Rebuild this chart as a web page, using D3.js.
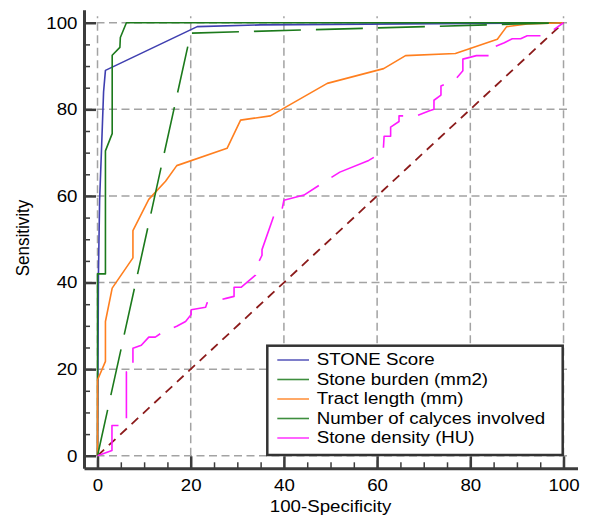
<!DOCTYPE html>
<html>
<head>
<meta charset="utf-8">
<script src="https://cdn.jsdelivr.net/npm/d3@7"></script>
<style>
  html, body { margin: 0; padding: 0; background: #fff; }
  svg { display: block; font-family: "Liberation Sans", Arial, sans-serif; }
</style>
</head>
<body>
<div id="chart"></div>
<script>
// dades ROC: [100-especificitat, sensibilitat]
const seriesNames = ["STONE Score", "Stone burden (mm2)", "Tract length (mm)", "Number of calyces involved", "Stone density (HU)"];

const stoneScore = [[0,0],[0.2,42],[0.45,59],[0.9,72],[1.3,84],[1.7,89],[21.4,99.1],[35,99.5],[100,100]];

const stoneBurden = [[0,0],[0,42],[1.7,42],[1.7,70.4],[3.15,74.4],[3.15,92.5],[4.8,94.3],[4.9,96.6],[6.2,100],[100,100]];

const tractLength = [[0,0],[0,17.5],[1.7,21.8],[1.7,31],[3.15,38.7],[7.6,45.7],[7.6,52],[11,59.2],[14.6,63.4],
  [17,67],[27.8,71],[30.7,77.5],[37.1,78.5],[49.3,86],[61.4,89.4],[66.1,92.4],[76.8,92.9],[85.8,96.2],
  [87.8,99.1],[92.2,99.7],[100,100]];

const calyces = [[0,0],[20,97.6],[100,100]];

const stoneDensity = [[0,0],[3.1,1.2],[3.1,7],[6.2,7],[6.2,19.4],[7.6,19.4],[7.6,24.8],[9.4,25.5],[11,27.4],
  [12.4,27.4],[13.9,28.5],[17,29.9],[18.9,31],[20.1,32.6],[20.1,33.7],[23.2,34.3],[23.5,35.3],[24.6,35.5],
  [27.8,36.4],[29.3,36.8],[29.3,38.9],[30.8,38.9],[33.9,41.7],[33.9,43.2],[35.3,46.3],[35.3,47.6],[37.8,55.3],
  [39.3,55.3],[40,59],[44.3,60.2],[48.9,63.4],[52,65.5],[58.2,68.2],[61.3,70.2],[61.5,73.8],[62.9,73.8],
  [62.9,75.9],[64.7,77.2],[64.7,78.5],[68.5,78.5],[71.1,79.6],[72.2,80],[72.2,82.1],[73.7,83.3],[73.7,85.4],
  [76.8,86.9],[78.4,88.9],[78.4,91.6],[81.3,92.4],[84.5,92.4],[84.5,94.1],[87.3,95.4],[89,96.3],[90.8,96.3],
  [92.2,97],[95.6,97],[96.9,97.6],[100,100]];

const diagonal = [[0,0],[100,100]];

const majorTicks = [0, 20, 40, 60, 80, 100];
const minorTicks = [5, 10, 15, 25, 30, 35, 45, 50, 55, 65, 70, 75, 85, 90, 95];

const width = 589, height = 515;
const stretch = 1.1; // la imatge original està estirada en horitzontal

const svg = d3.select("#chart").append("svg")
  .attr("width", width)
  .attr("height", height);

const x = d3.scaleLinear().domain([-2.9, 103]).range([84, 577.5]);
const y = d3.scaleLinear().domain([-2.9, 103]).range([468.3, 9.75]);

// graella
const grid = svg.append("g")
  .attr("stroke", "#a3a3a3")
  .attr("stroke-width", 1.5)
  .attr("stroke-dasharray", "8,4.5");

grid.selectAll(".gv").data(majorTicks).enter().append("line")
  .attr("x1", d => x(d)).attr("x2", d => x(d))
  .attr("y1", y(-2.9)).attr("y2", y(101.5));

grid.selectAll(".gh").data(majorTicks).enter().append("line")
  .attr("y1", d => y(d)).attr("y2", d => y(d))
  .attr("x1", x(-2.9)).attr("x2", x(101.5));

const line = d3.line().x(d => x(d[0])).y(d => y(d[1]));

// diagonal de referència
svg.append("path")
  .datum(diagonal)
  .attr("d", line)
  .attr("fill", "none")
  .attr("stroke", "#8b1a1a")
  .attr("stroke-width", 1.8)
  .attr("stroke-dasharray", "9,6.5");

const series = [
  { data: stoneScore,   color: "#3f3fb0", dash: null },
  { data: stoneBurden,  color: "#1c7a1c", dash: null },
  { data: tractLength,  color: "#ff7f1f", dash: null },
  { data: calyces,      color: "#1c7a1c", dash: "47,15" },
  { data: stoneDensity, color: "#ff1aff", dash: "47,15" }
];

series.forEach(s => {
  svg.append("path")
    .datum(s.data)
    .attr("d", line)
    .attr("fill", "none")
    .attr("stroke", s.color)
    .attr("stroke-width", 1.6)
    .attr("stroke-linejoin", "round")
    .attr("stroke-dasharray", s.dash);
});

// eixos
const axisColor = "#3c3c3c";

function styleAxis(g, w) {
  g.select(".domain").attr("stroke", axisColor).attr("stroke-width", 3);
  g.selectAll(".tick line").attr("stroke", axisColor).attr("stroke-width", w);
  g.selectAll(".tick text")
    .attr("fill", "#000")
    .style("font-size", "17px")
    .attr("transform", `scale(${stretch},1)`);
}

const yAxisG = svg.append("g")
  .attr("transform", `translate(${x(-2.9)},0)`)
  .call(d3.axisLeft(y).tickValues(majorTicks).tickSizeInner(-12).tickSizeOuter(0).tickPadding(6.5))
  .call(g => styleAxis(g, 2.5));

svg.append("g")
  .attr("transform", `translate(${x(-2.9)},0)`)
  .call(d3.axisLeft(y).tickValues(minorTicks).tickSizeInner(-6).tickSizeOuter(0).tickFormat(""))
  .call(g => styleAxis(g, 1.5))
  .select(".domain").remove();

const xAxisG = svg.append("g")
  .attr("transform", `translate(0,${y(-2.9)})`)
  .call(d3.axisBottom(x).tickValues(majorTicks).tickSizeInner(-12).tickSizeOuter(0).tickPadding(11))
  .call(g => styleAxis(g, 2.5));

svg.append("g")
  .attr("transform", `translate(0,${y(-2.9)})`)
  .call(d3.axisBottom(x).tickValues(minorTicks).tickSizeInner(-6).tickSizeOuter(0).tickFormat(""))
  .call(g => styleAxis(g, 1.5))
  .select(".domain").remove();

yAxisG.selectAll("text").attr("x", -6.5 / stretch);

// títols d'eix
svg.append("text")
  .attr("transform", `translate(${(x(0) + x(100)) / 2},512) scale(${stretch},1)`)
  .attr("text-anchor", "middle")
  .style("font-size", "17px")
  .text("100-Specificity");

svg.append("text")
  .attr("transform", `translate(28.5,238) scale(${stretch},1) rotate(-90)`)
  .attr("text-anchor", "middle")
  .style("font-size", "17px")
  .text("Sensitivity");

// llegenda
const legend = svg.append("g");

legend.append("rect")
  .attr("x", 267.3).attr("y", 345.7)
  .attr("width", 295.4).attr("height", 109.3)
  .attr("fill", "#fff")
  .attr("stroke", "#333")
  .attr("stroke-width", 2.5);

series.forEach((s, i) => {
  const by = 365 + i * 19.5;
  legend.append("line")
    .attr("x1", 277.3).attr("x2", 309)
    .attr("y1", by - 5).attr("y2", by - 5)
    .attr("stroke", s.color)
    .attr("stroke-width", 1.6)
    .attr("stroke-opacity", 0.85);
  legend.append("text")
    .attr("transform", `translate(316.7,${by}) scale(${stretch},1)`)
    .style("font-size", "17px")
    .text(seriesNames[i]);
});
</script>
</body>
</html>
